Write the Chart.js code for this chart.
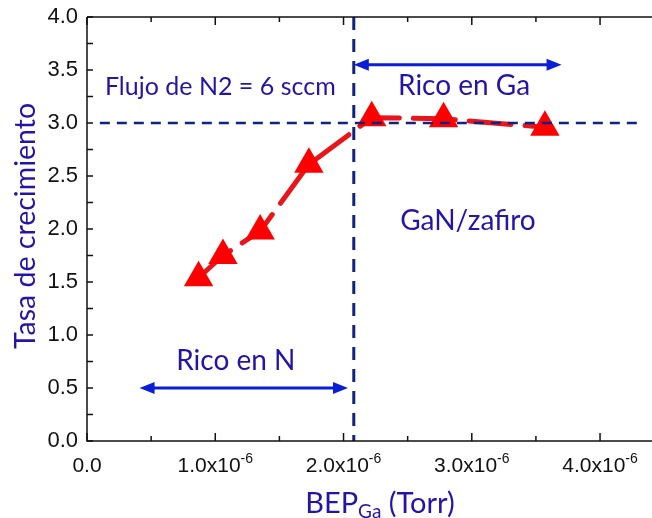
<!DOCTYPE html>
<html>
<head>
<meta charset="utf-8">
<script src="https://cdn.jsdelivr.net/npm/chart.js@4.4.1/dist/chart.umd.min.js"></script>
<style>
html, body { margin: 0; padding: 0; background: #fff; }
#wrap { width: 652px; height: 518px; }
</style>
</head>
<body>
<div id="wrap"><canvas id="grafico" width="652" height="518"></canvas></div>
<script>
// valores
const bepGa = [0.87e-6, 1.06e-6, 1.35e-6, 1.73e-6, 2.22e-6, 2.78e-6, 3.57e-6];
const tasa = [1.54, 1.75, 1.98, 2.61, 3.05, 3.04, 2.96];

const xTicks = [0, 1e-6, 2e-6, 3e-6, 4e-6];
const xTickLabels = ['0.0', '1.0x10', '2.0x10', '3.0x10', '4.0x10'];
const yTicks = [0, 0.5, 1, 1.5, 2, 2.5, 3, 3.5, 4];
const yTickLabels = ['0.0', '0.5', '1.0', '1.5', '2.0', '2.5', '3.0', '3.5', '4.0'];

const bepLimite = 2.08e-6;   // frontera rico en N / rico en Ga
const tasaRef = 3.0;

// flechas: [x inicio, x fin, y]
const flechaGa = [2.08e-6, 3.70e-6, 3.55];
const flechaN = [0.41e-6, 2.035e-6, 0.50];

// textos: [texto, x, y, alineacion, tamano]
const notas = [
    ['Flujo de N2 = 6 sccm', 0.14e-6, 3.26, 'left', 25],
    ['Rico en Ga', 2.94e-6, 3.26, 'center', 28],
    ['GaN/zafiro', 2.97e-6, 1.99, 'center', 28],
    ['Rico en N', 1.16e-6, 0.67, 'center', 28]
];

const azulTexto = '#2414a8';
const azulFlecha = '#0a1ed8';
const azulRaya = '#10237e';

function flecha(ctx, x1, x2, y) {
    const L = 15, W = 6;
    ctx.save();
    ctx.strokeStyle = azulFlecha;
    ctx.fillStyle = azulFlecha;
    ctx.lineWidth = 3;
    ctx.beginPath();
    ctx.moveTo(x1 + L - 2, y);
    ctx.lineTo(x2 - L + 2, y);
    ctx.stroke();
    ctx.beginPath();
    ctx.moveTo(x1, y);
    ctx.lineTo(x1 + L, y - W);
    ctx.lineTo(x1 + L, y + W);
    ctx.closePath();
    ctx.fill();
    ctx.beginPath();
    ctx.moveTo(x2, y);
    ctx.lineTo(x2 - L, y - W);
    ctx.lineTo(x2 - L, y + W);
    ctx.closePath();
    ctx.fill();
    ctx.restore();
}

const marco = {
    id: 'marco',
    afterDatasetsDraw(chart) {
        const ctx = chart.ctx;
        const xs = chart.scales.x, ys = chart.scales.y;
        const a = chart.chartArea;

        // lineas de referencia discontinuas
        ctx.save();
        ctx.strokeStyle = azulRaya;
        ctx.lineWidth = 2.5;
        ctx.setLineDash([10, 7]);
        ctx.beginPath();
        ctx.moveTo(xs.getPixelForValue(0.1e-6), ys.getPixelForValue(tasaRef));
        ctx.lineTo(xs.getPixelForValue(4.33e-6), ys.getPixelForValue(tasaRef));
        ctx.stroke();
        ctx.lineWidth = 3;
        ctx.setLineDash([13, 9]);
        ctx.beginPath();
        ctx.moveTo(xs.getPixelForValue(bepLimite), a.top);
        ctx.lineTo(xs.getPixelForValue(bepLimite), a.bottom);
        ctx.stroke();
        ctx.restore();

        // ejes
        ctx.save();
        ctx.strokeStyle = '#111';
        ctx.lineWidth = 1.5;
        ctx.beginPath();
        ctx.moveTo(a.left, a.top);
        ctx.lineTo(a.right, a.top);
        ctx.moveTo(a.left, a.top);
        ctx.lineTo(a.left, a.bottom);
        ctx.lineTo(a.right, a.bottom);
        ctx.stroke();
        ctx.beginPath();
        for (let v = 0; v <= 4.4e-6; v += 0.5e-6) {
            const px = xs.getPixelForValue(v);
            const major = Math.round(v / 0.5e-6) % 2 === 0;
            const len = major ? 8 : 5;
            ctx.moveTo(px, a.bottom);
            ctx.lineTo(px, a.bottom - len);
            ctx.moveTo(px, a.top);
            ctx.lineTo(px, a.top + len);
        }
        for (let v = 0; v <= 4; v += 0.25) {
            const py = ys.getPixelForValue(v);
            ctx.moveTo(a.left, py);
            ctx.lineTo(a.left + 6, py);
        }
        ctx.stroke();

        // etiquetas de los ejes
        ctx.fillStyle = '#111';
        ctx.font = '22px "Liberation Sans", Arial, sans-serif';
        ctx.textAlign = 'right';
        ctx.textBaseline = 'middle';
        yTicks.forEach((v, i) => {
            ctx.fillText(yTickLabels[i], a.left - 9, ys.getPixelForValue(v));
        });
        ctx.textBaseline = 'alphabetic';
        xTicks.forEach((v, i) => {
            const px = xs.getPixelForValue(v);
            const base = a.bottom + 31;
            ctx.font = '21px "Liberation Sans", Arial, sans-serif';
            const t = xTickLabels[i];
            const w1 = ctx.measureText(t).width;
            if (v === 0) {
                ctx.textAlign = 'center';
                ctx.fillText(t, px, base);
                return;
            }
            ctx.font = '14px "Liberation Sans", Arial, sans-serif';
            const w2 = ctx.measureText('-6').width;
            const x0 = px - (w1 + w2) / 2;
            ctx.textAlign = 'left';
            ctx.font = '21px "Liberation Sans", Arial, sans-serif';
            ctx.fillText(t, x0, base);
            ctx.font = '14px "Liberation Sans", Arial, sans-serif';
            ctx.fillText('-6', x0 + w1, base - 9);
        });
        ctx.restore();

        // titulos de los ejes
        ctx.save();
        ctx.fillStyle = azulTexto;
        ctx.font = '28.5px Lato, "Open Sans", sans-serif';
        ctx.textAlign = 'center';
        ctx.textBaseline = 'alphabetic';
        ctx.translate(35, 226);
        ctx.rotate(-Math.PI / 2);
        ctx.fillText('Tasa de crecimiento', 0, 0);
        ctx.restore();

        ctx.save();
        ctx.fillStyle = azulTexto;
        ctx.textBaseline = 'alphabetic';
        ctx.textAlign = 'left';
        const partes = [['BEP', 29, 0], ['Ga', 19, 5], [' (Torr)', 29, 0]];
        let total = 0;
        partes.forEach(p => {
            ctx.font = p[1] + 'px Lato, "Open Sans", sans-serif';
            total += ctx.measureText(p[0]).width;
        });
        let cx = 380 - total / 2;
        partes.forEach(p => {
            ctx.font = p[1] + 'px Lato, "Open Sans", sans-serif';
            ctx.fillText(p[0], cx, 513 + p[2]);
            cx += ctx.measureText(p[0]).width;
        });
        ctx.restore();

        // flechas y textos
        flecha(ctx, xs.getPixelForValue(flechaGa[0]), xs.getPixelForValue(flechaGa[1]), ys.getPixelForValue(flechaGa[2]));
        flecha(ctx, xs.getPixelForValue(flechaN[0]), xs.getPixelForValue(flechaN[1]), ys.getPixelForValue(flechaN[2]));

        ctx.save();
        ctx.fillStyle = azulTexto;
        ctx.textBaseline = 'alphabetic';
        notas.forEach(n => {
            ctx.font = n[4] + 'px Lato, "Open Sans", sans-serif';
            ctx.textAlign = n[3];
            ctx.fillText(n[0], xs.getPixelForValue(n[1]), ys.getPixelForValue(n[2]));
        });
        ctx.restore();
    }
};

new Chart(document.getElementById('grafico'), {
    type: 'scatter',
    data: {
        datasets: [{
            data: bepGa.map((x, i) => ({ x: x, y: tasa[i] })),
            showLine: true,
            borderColor: '#e8151b',
            borderWidth: 5,
            borderDash: [42, 14],
            borderCapStyle: 'round',
            pointStyle: 'triangle',
            pointRadius: 17,
            pointHoverRadius: 17,
            pointBackgroundColor: '#ff0000',
            pointBorderWidth: 0,
            clip: false
        }]
    },
    options: {
        responsive: false,
        animation: false,
        devicePixelRatio: 1,
        layout: { autoPadding: false, padding: { left: 87, top: 17, right: 0, bottom: 77 } },
        plugins: {
            legend: { display: false },
            tooltip: { enabled: false }
        },
        scales: {
            x: { type: 'linear', min: 0, max: 4.405e-6, display: false },
            y: { min: 0, max: 4, display: false }
        }
    },
    plugins: [marco]
});
</script>
</body>
</html>
